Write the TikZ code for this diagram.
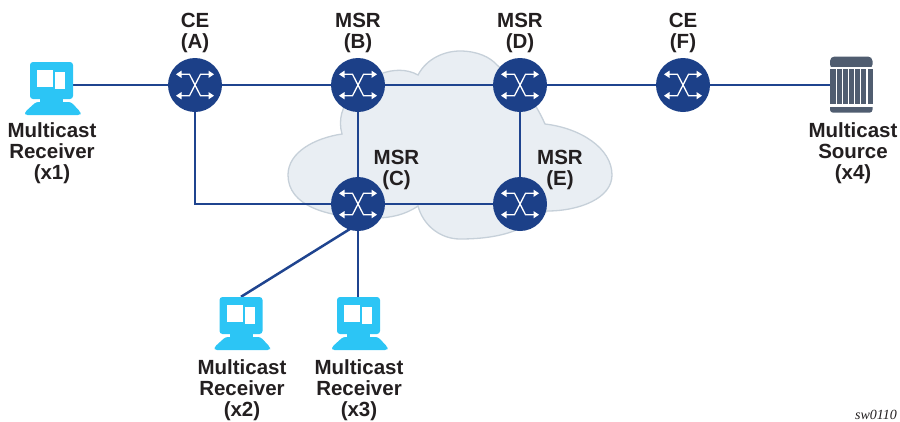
\documentclass[tikz,border=0pt]{standalone}
\usepackage{fontspec}
\setmainfont{Liberation Sans}
\newfontfamily\tagfont{Liberation Serif}
\usetikzlibrary{arrows.meta,backgrounds,calc}
\definecolor{linkblue}{HTML}{1F448F}
\definecolor{routerblue}{HTML}{1C4088}
\definecolor{hostcyan}{HTML}{2CC5F5}
\definecolor{srcgrey}{HTML}{505D70}
\definecolor{cloudfill}{HTML}{E9EEF3}
\definecolor{cloudline}{HTML}{C6D0D9}
\definecolor{labelink}{HTML}{231F20}
\tikzset{
  x=1pt,y=-1pt,
  link/.style={draw=linkblue,line width=2.5pt},
  router/.style={circle,fill=routerblue,minimum size=54pt,inner sep=0pt},
  xarrow/.style={draw=white,line width=1.3pt,{Triangle[length=5.5pt,width=7pt]}-{Triangle[length=5.5pt,width=7pt]}},
  lab/.style={font=\fontsize{20.5}{21}\selectfont\bfseries,text=labelink,align=center,inner sep=0pt},
  screen/.style={rectangle,fill=hostcyan,rounded corners=3pt,minimum width=43pt,minimum height=37pt,inner sep=0pt},
  source/.style={rectangle,minimum width=42pt,minimum height=57pt,inner sep=0pt},
  pics/xmark/.style={code={
    \draw[xarrow] (-19,-10.7) -- (-5.5,-10.7) -- (5.5,10.7) -- (19,10.7);
    \draw[xarrow] (-19,10.7) -- (-5.5,10.7) -- (5.5,-10.7) -- (19,-10.7);
  }},
  pics/hostparts/.style={code={
    \fill[hostcyan,rounded corners=2.5pt] (6,40) -- (41,40) -- (50.5,50) -- (50.5,53) -- (-5,53) -- (-5,50) -- cycle;
    \fill[hostcyan] (10,36) rectangle (33,42);
    \fill[white] (7,8) rectangle (23,25);
    \fill[white] (25,10) rectangle (35,27);
  }}
}
\begin{document}
\begin{tikzpicture}
\useasboundingbox (0,0) rectangle (900,421);
\node[router] (A) at (195,85) {};
\node[router] (B) at (358,85) {};
\node[router] (D) at (520,85) {};
\node[router] (F) at (683,85) {};
\node[router] (C) at (358,204) {};
\node[router] (E) at (520,204) {};
\foreach \r in {A,B,C,D,E,F} \pic at (\r) {xmark};
\node[screen] (x1) at (51.5,80.5) {};
\node[screen] (x2) at (241,315.5) {};
\node[screen] (x3) at (358.5,315.5) {};
\pic at (30,62) {hostparts};
\pic at (219.5,297) {hostparts};
\pic at (337,297) {hostparts};
\node[source] (x4) at (851,84.5) {};
\fill[srcgrey,rounded corners=4.5pt] (830,69) -- (830,56.5) -- (872.5,56.5) -- (872.5,69) -- cycle;
\fill[white] (829,66.8) rectangle (873,69);
\fill[srcgrey,rounded corners=3pt] (830,104) -- (830,112.7) -- (872.5,112.7) -- (872.5,104) -- cycle;
\fill[white] (829,104) rectangle (873,106.5);
\fill[srcgrey] (830,69) rectangle (872.5,104);
\foreach \i in {0,...,5} \fill[white] ({835.7+\i*6.15},69) rectangle ({836.8+\i*6.15},104);
\node[lab] at (195,33) {CE\\(A)};
\node[lab] at (358,33) {MSR\\(B)};
\node[lab] at (520,33) {MSR\\(D)};
\node[lab] at (683,33) {CE\\(F)};
\node[lab] at (396.5,170) {MSR\\(C)};
\node[lab] at (560,170) {MSR\\(E)};
\node[lab] at (52,153) {Multicast\\Receiver\\(x1)};
\node[lab] at (242,390) {Multicast\\Receiver\\(x2)};
\node[lab] at (359,390) {Multicast\\Receiver\\(x3)};
\node[lab] at (853,153) {Multicast\\Source\\(x4)};
\node[font=\tagfont\itshape\fontsize{14}{15}\selectfont,text=labelink,inner sep=0pt,anchor=west] (tag) at (855,415) {sw0110};
\begin{pgfonlayer}{background}
\draw[fill=cloudfill,draw=cloudline,line width=1.3pt]
  (418,75) .. controls (427,58) and (445,51) .. (460,51)
  .. controls (477,51) and (490,57) .. (497,65)
  .. controls (520,85) and (532,95) .. (545,124)
  .. controls (580,128) and (612,148) .. (612,175)
  .. controls (612,198) and (580,211) .. (547,211)
  .. controls (530,225) and (510,239) .. (460,239)
  .. controls (440,239) and (423,225) .. (418,206)
  .. controls (405,215) and (390,218) .. (375,218)
  .. controls (325,218) and (288,205) .. (288,175)
  .. controls (288,152) and (315,138) .. (342,134)
  .. controls (338,120) and (342,105) .. (352,97)
  .. controls (362,78) and (395,62) .. (418,75) -- cycle;
\path[link] (x1.east |- A) -- (A);
\path[link] (A) -- (B);
\path[link] (B) -- (D);
\path[link] (D) -- (F);
\path[link] (F) -- (x4.west |- F);
\path[link] (A) |- (C);
\path[link] (B) -- (C);
\path[link] (D) -- (E);
\path[link] (C) -- (E);
\path[link] ($(C)+(0,20)$) -- (x2.north);
\path[link] (C) -- (C |- x3.north);
\end{pgfonlayer}
\end{tikzpicture}
\end{document}
